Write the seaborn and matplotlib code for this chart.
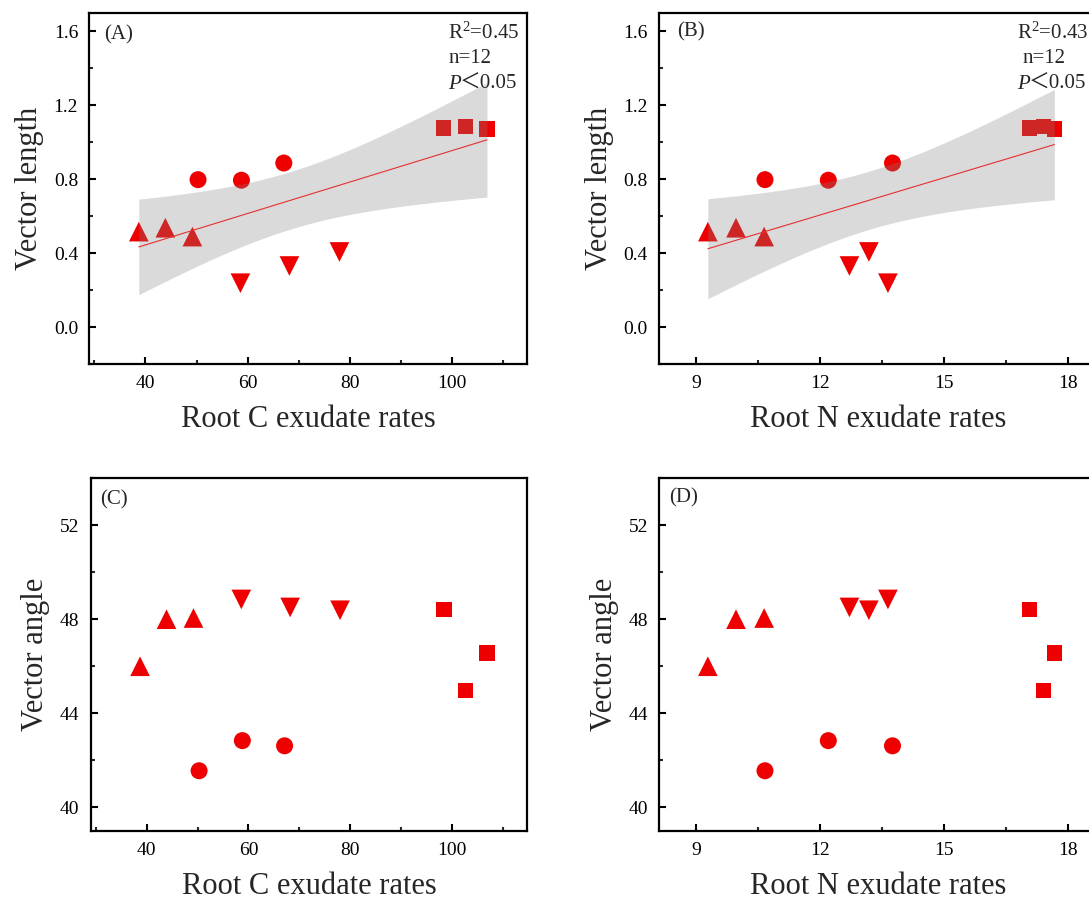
import numpy as np
import pandas as pd
import matplotlib
matplotlib.use("Agg")
import matplotlib.pyplot as plt
import seaborn as sns
from matplotlib.ticker import MultipleLocator

# ---------------- data ----------------
group = ["Up", "Up", "Up", "Circle", "Circle", "Circle",
         "Down", "Down", "Down", "Square", "Square", "Square"]
root_c = [38.7, 43.9, 49.2, 50.3, 58.8, 67.1, 58.6, 68.2, 78.0, 98.4, 102.7, 106.9]
root_n = [9.29, 9.97, 10.65, 10.67, 12.20, 13.75, 13.64, 12.71, 13.18, 17.06, 17.40, 17.66]
vector_length = [0.516, 0.537, 0.489, 0.797, 0.794, 0.887,
                 0.237, 0.330, 0.406, 1.076, 1.085, 1.070]
vector_angle = [46.0, 48.0, 48.05, 41.56, 42.84, 42.62,
                48.84, 48.50, 48.38, 48.41, 44.97, 46.56]

panel_labels = ["(A)", "(B)", "(C)", "(D)"]
r2_labels = ["R$^{2}$=0.45", "R$^{2}$=0.43"]
n_label = "n=12"
p_label = "＜0.05"
x_labels = ["Root C exudate rates", "Root N exudate rates"]
y_labels = ["Vector length", "Vector angle"]

df = pd.DataFrame({"group": group, "root_c": root_c, "root_n": root_n,
                   "vector_length": vector_length, "vector_angle": vector_angle})

# ---------------- style ----------------
sns.set_style("ticks")
plt.rcParams["font.family"] = ["Liberation Serif", "Noto Sans CJK SC", "DejaVu Sans"]
plt.rcParams["mathtext.fontset"] = "custom"
plt.rcParams["mathtext.rm"] = "Liberation Serif"
plt.rcParams["mathtext.it"] = "Liberation Serif:italic"
plt.rcParams["mathtext.default"] = "regular"

W, H = 1089, 902
fig = plt.figure(figsize=(W / 100, H / 100), dpi=100)


def add_ax(l, r, t, b):
    return fig.add_axes([l / W, 1 - b / H, (r - l) / W, (b - t) / H])


axA = add_ax(89.3, 527.3, 12.7, 364)
axB = add_ax(659, 1097, 12.7, 364)
axC = add_ax(90.7, 527.3, 478, 831)
axD = add_ax(659, 1097, 478, 831)

markers = {"Up": "^", "Circle": "o", "Down": "v", "Square": "s"}
sizes = {"Up": 200, "Circle": 150, "Down": 200, "Square": 125}
red = "#EE0000"


def scatter(ax, xcol, ycol):
    sns.scatterplot(data=df, x=xcol, y=ycol, style="group", markers=markers,
                    size="group", sizes=sizes, color=red, linewidth=0,
                    legend=False, ax=ax, zorder=2)


def fit_band(ax, xcol, ycol):
    x = df[xcol].to_numpy()
    y = df[ycol].to_numpy()
    sns.regplot(data=df, x=xcol, y=ycol, scatter=False, ci=None, truncate=True,
                color="#E53030", line_kws=dict(lw=0.8, zorder=4), ax=ax)
    n = len(x)
    b, a = np.polyfit(x, y, 1)
    resid = y - (a + b * x)
    s = np.sqrt(np.sum(resid ** 2) / (n - 2))
    xg = np.linspace(x.min(), x.max(), 200)
    yg = a + b * xg
    se = s * np.sqrt(1 / n + (xg - x.mean()) ** 2 / np.sum((x - x.mean()) ** 2))
    t = 2.228  # t(0.975, df=10)
    ax.fill_between(xg, yg - t * se, yg + t * se, color="0.5", alpha=0.29,
                    lw=0, zorder=3)


def style(ax, xlim, ylim, xmaj, xmin, ymaj, ymin, xl, yl):
    ax.set_xlim(*xlim)
    ax.set_ylim(*ylim)
    ax.xaxis.set_major_locator(MultipleLocator(xmaj))
    ax.xaxis.set_minor_locator(MultipleLocator(xmin))
    ax.yaxis.set_major_locator(MultipleLocator(ymaj))
    ax.yaxis.set_minor_locator(MultipleLocator(ymin))
    ax.tick_params(which="major", direction="in", length=5, width=1.5,
                   labelsize=14, pad=8, top=False, right=False, colors="black")
    ax.tick_params(which="minor", direction="in", length=3, width=1.5,
                   top=False, right=False)
    for sp in ax.spines.values():
        sp.set_linewidth(1.6)
        sp.set_color("black")
        sp.set_visible(True)
    ax.set_xlabel(xl, fontsize=22, labelpad=9)
    ax.set_ylabel(yl, fontsize=22, labelpad=7)


# Panels A & B: vector length with fit
scatter(axA, "root_c", "vector_length")
fit_band(axA, "root_c", "vector_length")
scatter(axB, "root_n", "vector_length")
fit_band(axB, "root_n", "vector_length")

# Panels C & D: vector angle
scatter(axC, "root_c", "vector_angle")
scatter(axD, "root_n", "vector_angle")

style(axA, (29, 114.8), (-0.2, 1.7), 20, 10, 0.4, 0.2, x_labels[0], y_labels[0])
style(axB, (8.11, 18.69), (-0.2, 1.7), 3, 1.5, 0.4, 0.2, x_labels[1], y_labels[0])
style(axC, (29, 114.8), (39, 54), 20, 10, 4, 2, x_labels[0], y_labels[1])
style(axD, (8.11, 18.69), (39, 54), 3, 1.5, 4, 2, x_labels[1], y_labels[1])

# panel letters
axA.text(0.034, 0.937, panel_labels[0], transform=axA.transAxes, fontsize=15, va="center")
axB.text(0.042, 0.946, panel_labels[1], transform=axB.transAxes, fontsize=15, va="center")
axC.text(0.022, 0.938, panel_labels[2], transform=axC.transAxes, fontsize=15, va="center")
axD.text(0.023, 0.944, panel_labels[3], transform=axD.transAxes, fontsize=15, va="center")

# statistics text
for ax, r2, xr, xn, xp in [(axA, r2_labels[0], 0.820, 0.820, 0.820),
                           (axB, r2_labels[1], 0.817, 0.831, 0.817)]:
    ax.text(xr, 0.943, r2, transform=ax.transAxes, fontsize=15, va="center")
    ax.text(xn, 0.870, n_label, transform=ax.transAxes, fontsize=15, va="center")
    ax.text(xp, 0.795, "P", transform=ax.transAxes, fontsize=15, va="center",
            style="italic")
    ax.text(xp + 0.027, 0.795, p_label, transform=ax.transAxes, fontsize=15,
            va="center")

fig.savefig("out.png", dpi=100)
